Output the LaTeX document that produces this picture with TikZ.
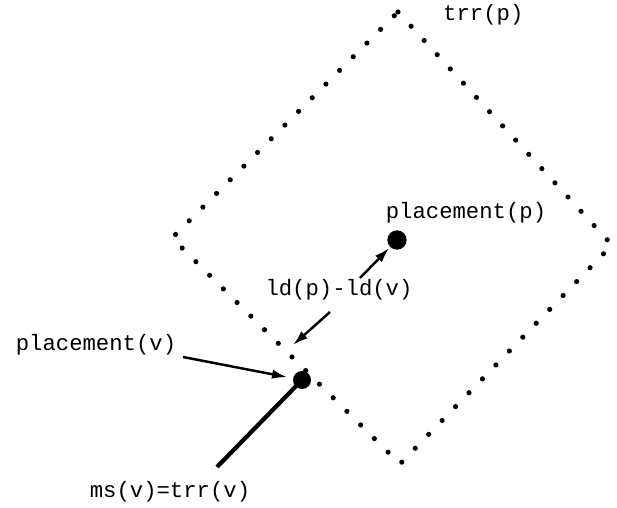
\documentclass[tikz,border=0pt]{standalone}
\usepackage{fontspec}
\setmonofont{Liberation Mono}
\usetikzlibrary{arrows.meta, positioning, calc}
\tikzset{
  lbl/.style={font=\ttfamily\fontsize{19}{20}\selectfont, inner sep=0pt},
  blob/.style={circle, fill=black, inner sep=0pt, minimum size=#1},
  blob/.default=0.5cm,
  ptr/.style={-{Latex[length=13pt, width=8pt]}, line width=2.1pt},
  bnd/.style={line width=4.4pt, line cap=round, dash pattern=on 0pt off 16.5pt},
}

\begin{document}
\begin{tikzpicture}[x=0.03cm, y=-0.03cm]
  \useasboundingbox (0,0) rectangle (617,508);
  % the trr(p) region
  \coordinate (tT) at (398,12);
  \coordinate (tR) at (612,245);
  \coordinate (tB) at (400,464);
  \coordinate (tL) at (172,238);
  \draw[bnd] (tT) -- (tR) -- (tB) -- (tL) -- cycle;
  \node[lbl, anchor=west] (trr) at (443,15) {trr(p)};

  % placements
  \node[blob=0.58cm] (pp) at (397,240) {};
  \node[blob=0.54cm] (pv) at (302,380) {};
  \node[lbl] (ppl) at (466,213) {placement(p)};
  \node[lbl] (pvl) at (96,345) {placement(v)};
  \node[lbl] (ld) at (339,290) {ld(p)-ld(v)};
  \node[lbl] (ms) at (170,492) {ms(v)=trr(v)};

  % arrows
  \coordinate (ldA) at (360,278);
  \coordinate (ldB) at (330,312);
  \coordinate (ldC) at (293,345);
  \coordinate (pvA) at (183,357);
  \coordinate (msA) at (217,467);
  \draw[ptr, shorten >=1pt] (ldA) -- (pp);
  \draw[ptr] (ldB) -- (ldC);
  \draw[ptr, shorten >=5pt] (pvA) -- (pv);
  \draw[line width=3.6pt] (msA) -- (pv.center);
\end{tikzpicture}
\end{document}
